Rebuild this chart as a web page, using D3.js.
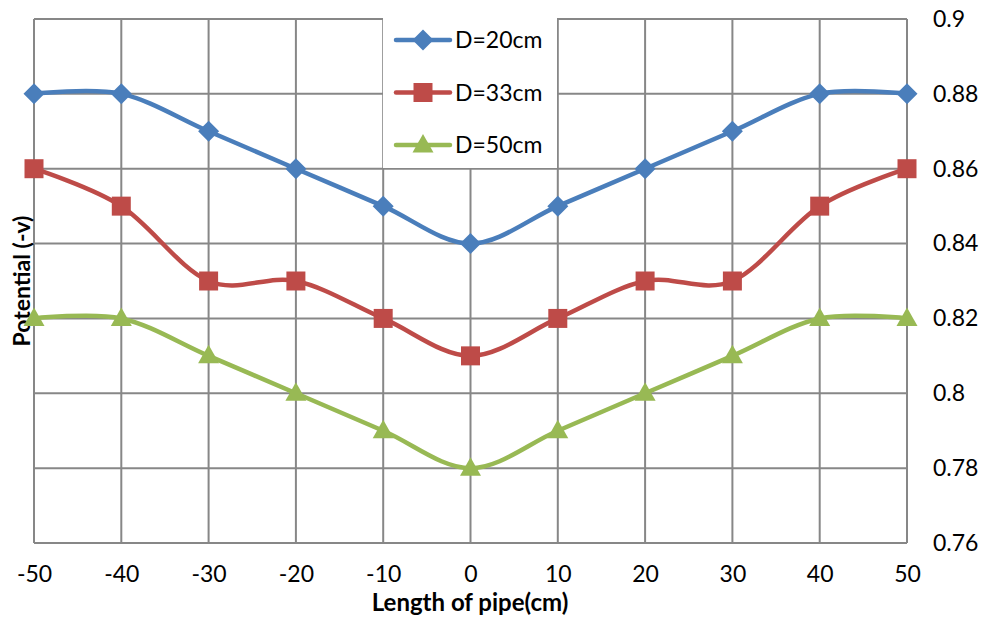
<!DOCTYPE html>
<html><head><meta charset="utf-8">
<script src="https://cdn.jsdelivr.net/npm/d3@7"></script>
<style>body{margin:0;background:#fff}svg{display:block}text{font-family:Lato,"Open Sans",sans-serif}</style>
</head><body><svg id="c" width="985" height="624"></svg>
<script>
const xValues = [-50,-40,-30,-20,-10,0,10,20,30,40,50];
const d20 = [0.88,0.88,0.87,0.86,0.85,0.84,0.85,0.86,0.87,0.88,0.88];
const d33 = [0.86,0.85,0.83,0.83,0.82,0.81,0.82,0.83,0.83,0.85,0.86];
const d50 = [0.82,0.82,0.81,0.80,0.79,0.78,0.79,0.80,0.81,0.82,0.82];
const seriesNames = ["D=20cm","D=33cm","D=50cm"];
const yTicks = [0.76,0.78,0.8,0.82,0.84,0.86,0.88,0.9];
const xTicks = [-50,-40,-30,-20,-10,0,10,20,30,40,50];

const svg = d3.select("#c");
const L=34,R=907,T=19,B=543;
const x = d3.scaleLinear().domain([-50,50]).range([L,R]);
const y = d3.scaleLinear().domain([0.76,0.9]).range([B,T]);
const grid = svg.append("g").attr("stroke","#878787").attr("stroke-width",2);
xTicks.forEach(v=>grid.append("line").attr("x1",x(v)).attr("x2",x(v)).attr("y1",T).attr("y2",B));
yTicks.forEach(v=>grid.append("line").attr("x1",L).attr("x2",R).attr("y1",y(v)).attr("y2",y(v)));

const yAxis = svg.append("g").attr("transform",`translate(${R},0)`)
  .call(d3.axisRight(y).tickValues(yTicks).tickFormat(d=>String(+d.toFixed(2))).tickSize(0).tickPadding(26));
yAxis.select(".domain").remove();
yAxis.selectAll("text").attr("font-size",23).attr("fill","#000").style("font-family","Lato,sans-serif");
const xAxis = svg.append("g").attr("transform",`translate(0,${B})`)
  .call(d3.axisBottom(x).tickValues(xTicks).tickFormat(d=>String(d)).tickSize(0).tickPadding(23));
xAxis.select(".domain").remove();
xAxis.selectAll("text").attr("font-size",23).attr("fill","#000").style("font-family","Lato,sans-serif");

svg.append("text").attr("x",470).attr("y",611).attr("text-anchor","middle").attr("font-size",24).attr("font-weight","bold").text("Length of pipe(cm)");
svg.append("text").attr("transform","translate(30,281) rotate(-90)").attr("text-anchor","middle").attr("font-size",23).attr("font-weight","bold").text("Potential (-v)");

const colors = ["#4A7EBB","#BE4B48","#98B954"];
const data = [d20,d33,d50];
const line = d3.line().x((d,i)=>x(xValues[i])).y(d=>y(d)).curve(d3.curveCardinal.tension(0));
const markerPaths = [
  "M0,-10.5L10.5,0L0,10.5L-10.5,0Z",
  "M-9.5,-9.5H9.5V9.5H-9.5Z",
  "M0,-11L10.5,7.5L-10.5,7.5Z"
];
data.forEach((s,k)=>{
  svg.append("path").attr("d",line(s)).attr("fill","none").attr("stroke",colors[k]).attr("stroke-width",4.5).attr("stroke-linecap","round");
  svg.append("g").selectAll("path").data(s).join("path")
    .attr("transform",(d,i)=>`translate(${x(xValues[i])},${y(d)})`)
    .attr("d",markerPaths[k]).attr("fill",colors[k]);
});

// legend
const lg = svg.append("g");
lg.append("rect").attr("x",383).attr("y",12).attr("width",174).attr("height",156).attr("fill","#fff");
seriesNames.forEach((n,k)=>{
  const yy = 40 + k*52.5;
  lg.append("line").attr("x1",396).attr("x2",450).attr("y1",yy).attr("y2",yy).attr("stroke",colors[k]).attr("stroke-width",4.5).attr("stroke-linecap","round");
  lg.append("path").attr("transform",`translate(423,${yy})`).attr("d",markerPaths[k]).attr("fill",colors[k]);
  lg.append("text").attr("x",455).attr("y",yy).attr("dy","0.36em").attr("font-size",23).text(n);
});
</script></body></html>
